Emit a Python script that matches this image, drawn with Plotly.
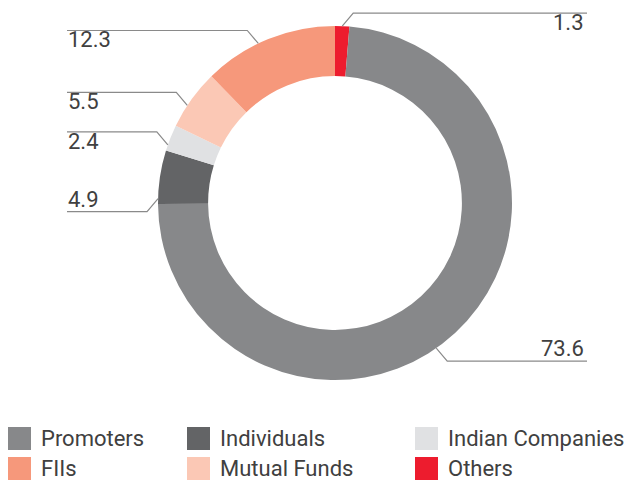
import math
import plotly.graph_objects as go

# Shareholding pattern (%)
categories = ["Promoters", "Individuals", "Indian Companies", "FIIs", "Mutual Funds", "Others"]
values = [73.6, 4.9, 2.4, 12.3, 5.5, 1.3]
colors = ["#87888a", "#636466", "#e0e1e3", "#f6987b", "#fbc8b5", "#ed1c2e"]

# Clockwise order of the slices, starting at 12 o'clock
slice_order = ["Others", "Promoters", "Individuals", "Indian Companies", "Mutual Funds", "FIIs"]

W, H = 634, 481
CX, CY, R = 335, 203, 177          # donut centre and outer radius (px)
HOLE = 0.717
FONT = "Roboto"
TEXT_COLOR = "#404040"
LINE_COLOR = "#8a8a8a"

# Leader-line styling per category: where on the slice the line leaves (0..1),
# which side the label sits on (+1 right / -1 left), vertical direction (-1 up / +1 down)
leader_pos = {"Others": 0.5, "Promoters": 0.53, "Individuals": 0.1,
              "Indian Companies": 0.22, "Mutual Funds": 0.38, "FIIs": 0.42}
leader_side = {"Others": 1, "Promoters": 1, "Individuals": -1,
               "Indian Companies": -1, "Mutual Funds": -1, "FIIs": -1}
leader_vdir = {"Others": -1, "Promoters": 1, "Individuals": 1,
               "Indian Companies": -1, "Mutual Funds": -1, "FIIs": -1}
LEFT_END, RIGHT_END = 67, 587


def px(x):
    return x / W


def py(y):
    return 1 - y / H


val = dict(zip(categories, values))
col = dict(zip(categories, colors))

fig = go.Figure(go.Pie(
    labels=slice_order,
    values=[val[c] for c in slice_order],
    marker=dict(colors=[col[c] for c in slice_order], line=dict(width=0)),
    hole=HOLE,
    sort=False,
    direction="clockwise",
    rotation=0,
    textinfo="none",
    hoverinfo="label+value",
    showlegend=False,
    domain=dict(x=[px(CX - R), px(CX + R)], y=[py(CY + R), py(CY - R)]),
))

shapes = []
annotations = []
total = sum(values)
cum = 0.0
for c in slice_order:
    v = val[c]
    frac = (cum + leader_pos[c] * v) / total
    cum += v
    ang = 2 * math.pi * frac
    ax = CX + R * math.sin(ang)
    ay = CY - R * math.cos(ang)
    side = leader_side[c]
    vdir = leader_vdir[c]
    ex = ax + side * 11
    ey = ay + vdir * 13
    endx = RIGHT_END if side > 0 else LEFT_END
    path = f"M {px(ax)},{py(ay)} L {px(ex)},{py(ey)} L {px(endx)},{py(ey)}"
    shapes.append(dict(type="path", xref="paper", yref="paper", path=path,
                       line=dict(color=LINE_COLOR, width=1.2)))
    tx = endx - 2 if side > 0 else LEFT_END
    annotations.append(dict(
        x=px(tx), y=py(ey - 4 if vdir < 0 else ey + 1), xref="paper", yref="paper",
        text=f"{v:.1f}", showarrow=False,
        xanchor="right" if side > 0 else "left",
        yanchor="top" if vdir < 0 else "bottom",
        font=dict(family=FONT, size=22, color=TEXT_COLOR),
        borderpad=0,
    ))

# Legend: three columns, two rows
col_sq_x = [8, 187, 415]
row_cy = [438.5, 468.5]
SQ = 23
for i, c in enumerate(categories):
    r, k = divmod(i, 3)
    x0 = col_sq_x[k]
    yc = row_cy[r]
    shapes.append(dict(type="rect", xref="paper", yref="paper",
                       x0=px(x0), x1=px(x0 + SQ), y0=py(yc + SQ / 2), y1=py(yc - SQ / 2),
                       fillcolor=col[c], line=dict(width=0)))
    annotations.append(dict(
        x=px(x0 + SQ + 9), y=py(yc), xref="paper", yref="paper",
        text=c, showarrow=False, xanchor="left", yanchor="middle",
        font=dict(family=FONT, size=22, color=TEXT_COLOR), borderpad=0,
    ))

fig.update_layout(
    width=W, height=H,
    margin=dict(l=0, r=0, t=0, b=0),
    paper_bgcolor="white",
    plot_bgcolor="white",
    shapes=shapes,
    annotations=annotations,
)

fig.write_html("out.html")
